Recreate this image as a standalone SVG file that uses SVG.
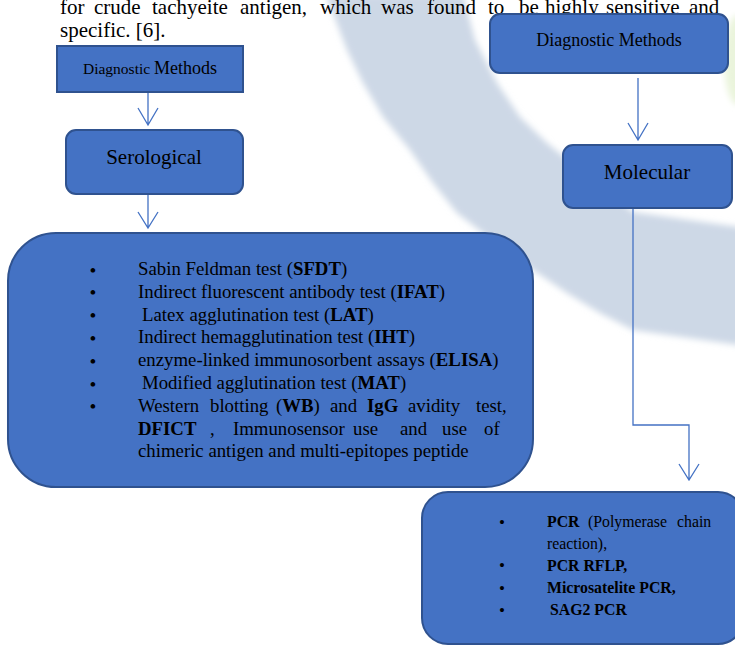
<svg xmlns="http://www.w3.org/2000/svg" width="735" height="645" viewBox="0 0 735 645">
<style>
text{font-family:"Liberation Serif","Times New Roman",serif;fill:#000}
.b{font-weight:bold}
.box{fill:#4472C4;stroke:#2F528F;stroke-width:2}
.con{fill:none;stroke:#4472C4;stroke-width:1.3}
.li{font-size:18.8px}
.pl{font-size:15.8px}
.bu{font-size:19.5px;text-anchor:middle}
.bu2{font-size:17px;text-anchor:middle}
</style>
<defs>
<filter id="blur" x="-10%" y="-10%" width="120%" height="120%"><feGaussianBlur stdDeviation="3"/></filter>
</defs>
<rect width="735" height="645" fill="#fff"/>
<g id="watermark">
<path d="M326,-5 L347,50 L363,83 L383,117 L410,150 L433,183 L457,213 L483,233 L533,270 L567,293 L600,313 L633,330 L745,346 L745,228 L633,212 L547,143 L520,117 L497,83 L475,40 L463,-5 Z" fill="#cdd8e6" filter="url(#blur)"/>
<ellipse cx="738" cy="60" rx="14" ry="45" fill="#eaf4dc" filter="url(#blur)"/>
</g>
<g id="paragraph" font-size="21">
<text y="14"><tspan x="60">for</tspan><tspan x="94">crude</tspan><tspan x="152">tachyeite</tspan><tspan x="240">antigen,</tspan><tspan x="320">which</tspan><tspan x="381">was</tspan><tspan x="427">found</tspan><tspan x="488">to</tspan><tspan x="519">be</tspan><tspan x="545">highly</tspan><tspan x="606">sensitive</tspan><tspan x="689">and</tspan></text>
<text x="60" y="37">specific. [6].</text>
</g>
<g id="connectors">
<path class="con" d="M148,93 V125 M138,108 L148,125 L158,108"/>
<path class="con" d="M148,194 V228 M138,212 L148,228 L158,212"/>
<path class="con" d="M638,78 V140 M628,123 L638,140 L648,123"/>
<path class="con" d="M633,208 V425 H689 V480 M679,464 L689,480 L699,464"/>
</g>
<g id="diag-left">
<rect class="box" x="57" y="46" width="186" height="46"/>
<text x="150" y="74" text-anchor="middle"><tspan font-size="15.5">Diagnostic </tspan><tspan font-size="18">Methods</tspan></text>
</g>
<g id="serological">
<rect class="box" x="66" y="130" width="177" height="64" rx="10"/>
<text x="154" y="164" text-anchor="middle" font-size="21">Serological</text>
</g>
<g id="serological-list">
<rect class="box" x="8" y="233" width="525" height="254" rx="48"/>
<text class="bu"><tspan x="93" y="276.5">•</tspan><tspan x="93" y="299.3">•</tspan><tspan x="93" y="322.1">•</tspan><tspan x="93" y="344.9">•</tspan><tspan x="93" y="367.7">•</tspan><tspan x="93" y="390.5">•</tspan><tspan x="93" y="413.3">•</tspan></text>
<g class="li">
<text x="138" y="275">Sabin Feldman test (<tspan class="b">SFDT</tspan>)</text>
<text x="138" y="297.8">Indirect fluorescent antibody test (<tspan class="b">IFAT</tspan>)</text>
<text x="142" y="320.6">Latex agglutination test (<tspan class="b">LAT</tspan>)</text>
<text x="138" y="343.4">Indirect hemagglutination test (<tspan class="b">IHT</tspan>)</text>
<text x="138" y="366.2">enzyme-linked immunosorbent assays (<tspan class="b">ELISA</tspan>)</text>
<text x="142" y="389">Modified agglutination test (<tspan class="b">MAT</tspan>)</text>
<text y="411.8"><tspan x="138">Western</tspan><tspan x="210">blotting</tspan><tspan x="276">(<tspan class="b">WB</tspan>)</tspan><tspan x="330">and</tspan><tspan x="367" class="b">IgG</tspan><tspan x="408">avidity</tspan><tspan x="476">test,</tspan></text>
<text y="434.6"><tspan x="138" class="b">DFICT</tspan><tspan x="210">,</tspan><tspan x="233">Immunosensor</tspan><tspan x="353">use</tspan><tspan x="400">and</tspan><tspan x="442">use</tspan><tspan x="484">of</tspan></text>
<text x="138" y="457.4">chimeric antigen and multi-epitopes peptide</text>
</g>
</g>
<g id="diag-right">
<rect class="box" x="490" y="14" width="238" height="59" rx="10"/>
<text x="609" y="46" text-anchor="middle" font-size="18">Diagnostic Methods</text>
</g>
<g id="molecular">
<rect class="box" x="563" y="145" width="169" height="63" rx="10"/>
<text x="647" y="179" text-anchor="middle" font-size="21">Molecular</text>
</g>
<g id="molecular-list">
<rect class="box" x="422" y="492" width="322" height="152" rx="26"/>
<text class="bu2"><tspan x="502" y="528">•</tspan><tspan x="502" y="571">•</tspan><tspan x="502" y="594">•</tspan><tspan x="502" y="616">•</tspan></text>
<g class="pl">
<text y="527"><tspan x="547" class="b">PCR</tspan><tspan x="588">(Polymerase</tspan><tspan x="677">chain</tspan></text>
<text x="547" y="549">reaction),</text>
<text x="547" y="571" class="b">PCR RFLP,</text>
<text x="547" y="593" class="b">Microsatelite PCR,</text>
<text x="550" y="615" class="b">SAG2 PCR</text>
</g>
</g>
</svg>
